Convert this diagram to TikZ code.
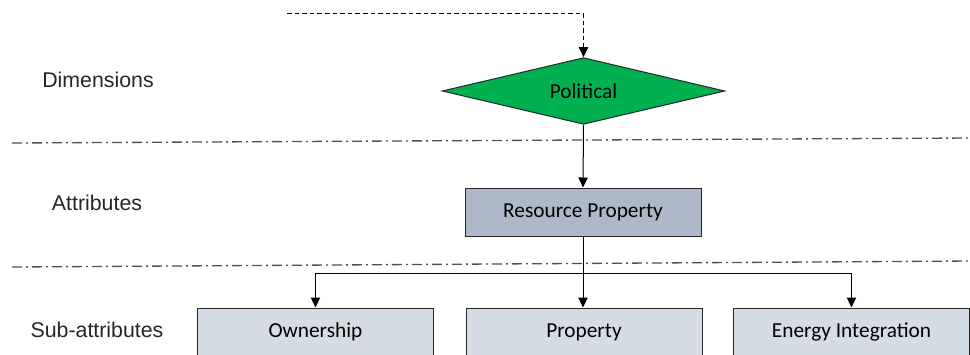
\documentclass[tikz,border=0pt]{standalone}
\usepackage{fontspec}
\setmainfont{Carlito}
\newfontfamily\arialfont{Liberation Sans}
\usetikzlibrary{arrows.meta,shapes.geometric}
\definecolor{dgreen}{HTML}{00B050}
\definecolor{attrfill}{HTML}{ADB9CA}
\definecolor{subfill}{HTML}{D6DCE4}
\definecolor{sepgray}{HTML}{505050}
\tikzset{
  px/.style={x=0.75pt,y=-0.75pt},
  lvl/.style={font=\arialfont\fontsize{16}{19}\selectfont, text=black!85},
  boxtext/.style={font=\fontsize{16}{19}\selectfont},
  dimshape/.style={diamond, aspect=4.2, draw=black!85, line width=0.75pt, fill=dgreen, inner sep=0pt,
    minimum width=212pt, minimum height=50pt, boxtext},
  attrbox/.style={rectangle, draw=black!85, line width=0.75pt, fill=attrfill, inner sep=0pt,
    minimum width=177pt, minimum height=36pt, boxtext},
  subbox/.style={rectangle, draw=black!85, line width=0.75pt, fill=subfill, inner sep=0pt,
    minimum width=177pt, minimum height=36pt, boxtext},
  sep/.style={draw=sepgray, line width=1pt, dash pattern=on 7.5pt off 3pt on 1.5pt off 3pt},
  conn/.style={draw=black, line width=0.75pt, -{Triangle[width=7pt,length=7.5pt]}},
  dconn/.style={conn, dash pattern=on 3.5pt off 2.2pt},
}
\begin{document}
\begin{tikzpicture}[px]
\useasboundingbox (0,0) rectangle (970,354);
\clip (0,0) rectangle (970,354);
\fill[white] (0,0) rectangle (970,354);

% level labels
\node[lvl] (ldim) at (98,80) {Dimensions};
\node[lvl] (lattr) at (97,203) {Attributes};
\node[lvl] (lsub) at (97,330) {Sub-attributes};

% separators
\coordinate (s1a) at (12,143);
\coordinate (s1b) at (970,138);
\coordinate (s2a) at (12,267);
\coordinate (s2b) at (970,261);
\draw[sep] (s1a) -- (s1b);
\draw[sep] (s2a) -- (s2b);

% nodes
\node[dimshape] (pol) at (583.5,91) {Political};
\node[attrbox] (rp) at (583,212) {Resource Property};
\node[subbox] (own) at (315.5,332) {Ownership};
\node[subbox] (prop) at (584,332) {Property};
\node[subbox] (ei) at (851.5,332) {Energy Integration};

% incoming dashed connector
\coordinate (din) at (287,13);
\draw[dconn] (din) -| (pol.north);

% connectors
\draw[conn] (pol.south) -- (rp.north);
\coordinate (bus) at (583,273);
\draw[conn] (rp.south) -- (rp.south |- prop.north);
\draw[line width=0.75pt] (own.north |- bus) -- (ei.north |- bus);
\draw[conn] (own.north |- bus) -- (own.north);
\draw[conn] (ei.north |- bus) -- (ei.north);
\end{tikzpicture}
\end{document}
